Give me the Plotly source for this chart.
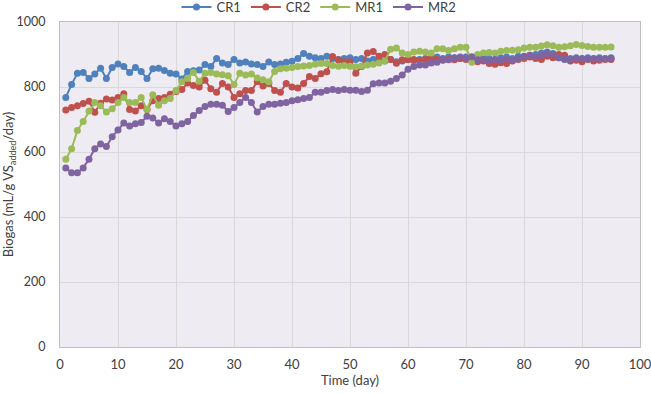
import plotly.graph_objects as go

days = list(range(1, 96))

cr1 = [768, 808, 842, 845, 826, 840, 858, 826, 860, 871,
       863, 845, 860, 848, 826, 856, 858, 851, 842, 840,
       825, 848, 850, 852, 869, 863, 888, 874, 869, 885,
       874, 877, 871, 869, 863, 877, 869, 871, 876, 879,
       888, 903, 895, 890, 888, 895, 888, 885, 888, 890,
       885, 888, 880, 885, 888, 880, 885, 878, 880, 885,
       882, 885, 888, 890, 892, 888, 892, 890, 888, 892,
       890, 888, 892, 888, 885, 890, 892, 888, 895, 892,
       898, 900, 905, 908, 903, 890, 885, 888, 890, 888,
       890, 888, 890, 888, 890]

cr2 = [729, 737, 742, 749, 756, 722, 750, 763, 760, 768,
       779, 731, 726, 742, 731, 758, 765, 768, 778, 786,
       792, 812, 805, 800, 821, 795, 784, 811, 800, 768,
       779, 789, 789, 816, 803, 811, 789, 784, 811, 800,
       797, 811, 832, 826, 841, 847, 894, 884, 878, 878,
       842, 863, 905, 909, 895, 900, 885, 873, 884, 884,
       885, 882, 885, 888, 885, 882, 886, 884, 888, 885,
       882, 878, 880, 872, 870, 875, 872, 880, 885, 888,
       892, 888, 885, 895, 890, 900, 898, 880, 882, 878,
       885, 880, 882, 885, 885]

mr1 = [578, 610, 666, 694, 726, 752, 742, 723, 733, 752,
       768, 752, 752, 768, 731, 776, 744, 758, 765, 789,
       816, 826, 845, 818, 842, 845, 840, 838, 835, 808,
       842, 837, 840, 828, 822, 816, 848, 856, 858, 860,
       863, 865, 866, 870, 872, 872, 866, 864, 866, 864,
       862, 865, 868, 870, 874, 880, 916, 920, 905, 900,
       908, 910, 908, 905, 918, 918, 912, 918, 922, 922,
       876, 900, 905, 906, 905, 910, 912, 913, 915, 920,
       922, 922, 926, 930, 927, 922, 924, 927, 931, 928,
       925, 922, 922, 922, 923]

mr2 = [551, 536, 536, 551, 578, 610, 625, 617, 647, 668,
       689, 680, 687, 691, 710, 705, 689, 702, 694, 680,
       687, 694, 712, 728, 740, 747, 747, 744, 725, 737,
       752, 768, 752, 723, 740, 747, 747, 750, 752, 758,
       761, 765, 768, 784, 784, 789, 792, 789, 792, 790,
       790, 786, 790, 810, 812, 812, 818, 826, 837, 855,
       863, 868, 868, 874, 876, 884, 884, 889, 892, 889,
       893, 884, 885, 880, 885, 882, 886, 884, 888, 895,
       898, 893, 898, 903, 900, 890, 886, 885, 888, 886,
       886, 887, 886, 887, 888]

series_names = ["CR1", "CR2", "MR1", "MR2"]
series_values = [cr1, cr2, mr1, mr2]
colors = ["#4F81BD", "#C0504D", "#9BBB59", "#8064A2"]

x_ticks = [0, 10, 20, 30, 40, 50, 60, 70, 80, 90, 100]
y_ticks = [0, 200, 400, 600, 800, 1000]

FONT = "Lato, 'Open Sans', sans-serif"
TXT = "#404040"

fig = go.Figure()
for name, vals, col in zip(series_names, series_values, colors):
    fig.add_trace(go.Scatter(
        x=days, y=vals, name=name, mode="lines+markers",
        line=dict(color=col, width=2),
        marker=dict(color=col, size=7, symbol="circle"),
    ))

axis_common = dict(
    showgrid=True, gridcolor="#D9D9D9", gridwidth=1,
    showline=True, linecolor="#BFBFBF", linewidth=1, mirror=True,
    zeroline=False, ticks="", automargin=False,
    ticklabeloverflow="allow",
)

# figure is 8px taller; the page is shifted up 8px so the legend sits near the top edge
fig.update_layout(
    width=651, height=402,
    margin=dict(l=60, r=11, t=15, b=47),
    paper_bgcolor="white",
    plot_bgcolor="#EEECF2",
    font=dict(family=FONT, size=13, color=TXT),
    legend=dict(
        orientation="h", xref="container", x=0.49, xanchor="center",
        yref="container", y=1.0, yanchor="top",
        font=dict(family=FONT, size=13, color=TXT),
        itemwidth=30, bgcolor="rgba(0,0,0,0)",
    ),
    xaxis=dict(
        range=[0, 100], tickvals=x_ticks, ticklabelstandoff=5,
        tickfont=dict(family=FONT, size=13, color=TXT),
        title=dict(text="Time (day)", font=dict(family=FONT, size=13, color=TXT), standoff=4),
        **axis_common,
    ),
    yaxis=dict(
        range=[0, 1000], tickvals=y_ticks, ticklabelstandoff=11,
        tickfont=dict(family=FONT, size=12.5, color=TXT),
        title=dict(text="Biogas (mL/g VS<sub>added</sub>/day)",
                   font=dict(family=FONT, size=13, color=TXT), standoff=2),
        **axis_common,
    ),
)

fig.write_html(
    "out.html",
    config={"displayModeBar": False},
    post_script=(
        "document.body.style.margin='0';"
        "document.body.style.marginTop='-8px';"
        "document.body.style.overflow='hidden';"
    ),
)
